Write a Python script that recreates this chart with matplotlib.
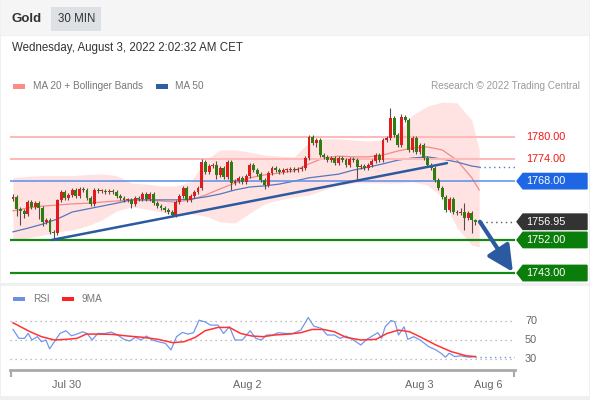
import matplotlib
matplotlib.use('Agg')
import matplotlib.pyplot as plt
from matplotlib.patches import Rectangle, Polygon
import numpy as np

plt.rcParams['font.family'] = ['Liberation Sans', 'DejaVu Sans']

# ---- data (30 min candles, Gold) ----
closes = [1763.7, 1760.4, 1759.9, 1759.1, 1762.3, 1761.0, 1762.0, 1760.7, 1756.9, 1757.4,
          1754.2, 1753.9, 1762.9, 1765.0, 1763.4, 1764.2, 1765.6, 1764.0, 1765.9, 1765.6,
          1763.4, 1761.8, 1765.6, 1765.3, 1765.3, 1765.0, 1765.3, 1765.0, 1764.0, 1763.4,
          1762.9, 1762.9, 1761.8, 1763.4, 1763.1, 1764.5, 1763.1, 1764.5, 1762.0, 1761.2,
          1760.7, 1760.1, 1759.6, 1758.8, 1762.3, 1764.0, 1766.1, 1762.9, 1764.0, 1765.0,
          1766.1, 1773.2, 1770.5, 1772.1, 1772.4, 1769.7, 1771.6, 1769.1, 1773.2, 1767.5,
          1768.0, 1768.9, 1767.8, 1769.4, 1772.4, 1771.0, 1769.9, 1768.3, 1766.9, 1770.2,
          1771.6, 1771.0, 1770.5, 1771.0, 1771.0, 1771.3, 1771.0, 1771.3, 1771.6, 1774.3,
          1780.0, 1778.4, 1779.2, 1775.1, 1774.6, 1773.7, 1774.3, 1772.9, 1774.3, 1773.7,
          1772.4, 1774.0, 1773.7, 1771.8, 1772.1, 1771.6, 1772.4, 1773.5, 1775.1, 1773.7,
          1779.2, 1779.7, 1785.2, 1780.6, 1777.8, 1785.4, 1784.6, 1776.5, 1779.7, 1775.9,
          1777.8, 1774.3, 1772.4, 1771.6, 1768.3, 1766.1, 1763.7, 1760.1, 1763.1, 1759.6,
          1759.3, 1759.6, 1758.0, 1759.3, 1757.4, 1756.9, 1756.95]
first_open = 1763.2
up_wick = [0.8, 0.5, 0.5, 0.5, 0.5, 0.5, 0.5, 0.5, 0.5, 0.5,
           0.5, 0.5, 0.3, 0.6, 0.5, 0.5, 0.5, 0.5, 0.5, 0.5,
           0.5, 0.5, 0.5, 0.5, 0.5, 0.5, 0.5, 0.5, 0.5, 0.5,
           0.5, 0.5, 0.5, 0.5, 0.5, 0.5, 0.5, 0.5, 0.5, 0.5,
           0.5, 0.5, 0.5, 0.5, 0.5, 0.5, 0.5, 0.5, 0.5, 0.5,
           0.5, 0.8, 0.5, 0.5, 0.5, 1.0, 0.5, 0.5, 0.5, 0.5,
           0.5, 0.5, 0.5, 0.5, 0.5, 0.5, 0.5, 0.5, 0.5, 0.5,
           0.5, 0.5, 0.5, 0.5, 0.5, 0.5, 0.5, 0.5, 0.5, 0.5,
           0.5, 0.5, 0.6, 0.5, 0.5, 0.5, 0.5, 0.5, 0.5, 0.5,
           0.5, 0.5, 0.5, 0.5, 0.5, 0.5, 0.5, 0.5, 0.5, 0.5,
           0.5, 0.5, 2.7, 0.6, 0.5, 0.8, 0.5, 0.5, 0.5, 0.5,
           0.5, 0.5, 0.5, 0.5, 0.5, 0.5, 0.5, 0.5, 0.5, 0.5,
           0.5, 1.0, 2.4, 0.5, 0.5, 0.4, 0.3]
dn_wick = [0.5, 2.0, 3.8, 1.1, 0.5, 0.5, 0.5, 3.0, 1.0, 0.5,
           0.5, 1.9, 0.5, 0.5, 0.5, 0.5, 0.5, 0.5, 0.5, 0.5,
           0.5, 0.6, 0.5, 0.5, 0.5, 0.5, 0.5, 0.5, 0.5, 0.5,
           0.5, 0.5, 1.0, 0.5, 0.5, 0.5, 0.5, 0.5, 0.5, 0.5,
           0.5, 0.5, 0.5, 0.6, 0.5, 0.5, 0.5, 0.5, 0.5, 0.5,
           0.5, 0.5, 0.5, 0.5, 0.5, 1.0, 0.5, 0.5, 0.5, 1.9,
           0.5, 0.5, 0.5, 0.5, 0.5, 0.5, 0.5, 0.5, 1.0, 0.5,
           0.5, 0.5, 0.5, 0.5, 0.5, 0.5, 0.5, 0.5, 0.5, 0.5,
           0.5, 0.5, 1.0, 0.5, 0.5, 0.5, 0.5, 0.5, 0.5, 0.5,
           0.5, 0.5, 0.5, 3.5, 0.5, 0.5, 0.5, 0.5, 0.5, 0.5,
           0.5, 0.5, 0.5, 0.5, 0.5, 0.5, 0.5, 0.5, 0.5, 0.5,
           0.5, 0.5, 0.5, 0.5, 0.5, 0.5, 0.5, 0.5, 0.5, 0.5,
           0.5, 0.5, 3.3, 0.5, 3.5, 0.8, 0.3]

# indicators sampled every 4 candles
ma_idx = [0, 4, 8, 12, 16, 20, 24, 28, 32, 36, 40, 44, 48, 52, 56, 60, 64,
          68, 72, 76, 80, 84, 88, 92, 96, 100, 104, 108, 112, 116, 120, 124, 126]
ma20 = [1759.9, 1760.7, 1761.2, 1761.5, 1761.8, 1762.0, 1762.3, 1762.6, 1762.9, 1762.9,
        1762.6, 1762.3, 1762.9, 1764.2, 1765.9, 1767.5, 1768.9, 1769.7, 1770.2, 1770.8,
        1772.7, 1774.3, 1774.8, 1774.6, 1774.6, 1775.1, 1776.2, 1777.0, 1777.3, 1776.5,
        1773.7, 1768.9, 1765.6]
bb_upper = [1769.0, 1769.3, 1769.5, 1769.5, 1769.5, 1769.8, 1770.0, 1769.5, 1767.5, 1767.2,
            1766.7, 1766.7, 1767.8, 1773.7, 1776.5, 1776.5, 1775.9, 1775.1, 1774.8, 1774.6,
            1778.6, 1779.5, 1779.5, 1779.2, 1778.9, 1779.2, 1781.1, 1786.0, 1788.4, 1789.5,
            1789.3, 1784.6, 1776.5]
bb_lower = [1752.0, 1752.5, 1753.3, 1754.2, 1754.7, 1755.8, 1757.4, 1759.9, 1761.0, 1760.4,
            1759.6, 1758.8, 1759.1, 1758.5, 1756.9, 1756.6, 1759.3, 1761.8, 1762.9, 1763.7,
            1764.2, 1765.6, 1766.9, 1767.5, 1767.5, 1767.5, 1767.5, 1767.8, 1766.9, 1763.7,
            1755.2, 1750.6, 1750.1]
ma50 = [1754.2, 1755.2, 1756.3, 1757.7, 1759.6, 1760.4, 1761.2, 1762.0, 1762.9, 1762.9,
        1762.9, 1762.9, 1763.1, 1763.7, 1764.5, 1765.6, 1766.4, 1766.7, 1767.2, 1768.0,
        1768.9, 1769.4, 1769.9, 1771.0, 1771.8, 1772.7, 1773.7, 1774.3, 1774.6, 1774.0,
        1773.2, 1772.1, 1771.8]

resistances = [1780.00, 1774.00]
pivot = 1768.00
supports = [1752.00, 1743.00]
last_price = 1756.95

trend_x = [10.5, 117.3]
trend_y = [1752.0, 1772.9]
arrow_x = [126.2, 135.1]
arrow_y = [1756.95, 1743.3]

rsi_idx = [0.0, 1.6, 3.1, 4.1, 5.1, 6.6, 7.7, 8.9, 9.9, 11.2, 12.7, 14.3, 15.8, 17.3, 18.8,
           20.0, 21.4, 22.9, 24.9, 26.5, 28.0, 30.0, 31.5, 33.1, 34.6, 36.1, 37.6, 39.2,
           41.2, 42.7, 44.2, 45.8, 47.3, 48.8, 50.3, 51.9, 53.4, 55.4, 56.9, 58.5, 60.0,
           62.0, 64.1, 65.6, 67.1, 68.6, 70.2, 71.7, 73.7, 75.7, 77.8, 79.8, 81.3, 83.4,
           84.9, 86.9, 88.4, 90.0, 92.0, 94.0, 95.6, 97.1, 98.6, 99.6, 100.6, 102.2, 103.2,
           104.2, 105.7, 106.7, 108.3, 110.3, 112.3, 114.3, 115.9, 116.9, 117.9, 119.4,
           121.0, 122.0, 123.5, 125.0]
rsi_val = [61.4, 51.8, 51.8, 57.1, 50.0, 53.6, 48.2, 50.0, 40.4, 48.2, 57.1, 60.0, 54.6, 56.4,
           58.9, 57.1, 50.0, 57.1, 57.1, 58.6, 56.1, 50.7, 48.9, 52.9, 50.0, 54.3, 50.0, 48.2,
           46.4, 39.3, 53.6, 58.2, 56.4, 57.9, 71.4, 69.6, 66.1, 66.1, 57.1, 64.3, 50.0, 50.0,
           60.0, 51.8, 50.0, 55.4, 55.4, 57.9, 57.1, 57.1, 60.7, 74.3, 65.0, 62.5, 55.4, 55.4,
           51.8, 54.3, 50.0, 44.6, 50.7, 54.3, 57.9, 51.8, 64.3, 71.1, 69.6, 55.4, 64.3, 50.7,
           53.6, 49.3, 42.9, 39.3, 35.0, 31.4, 35.7, 32.1, 32.9, 32.1, 31.4, 32.1]
rsi_ma_idx = [0, 4.6, 7.7, 11.2, 14.3, 17.3, 19.8, 22.9, 27.0, 31.0, 35.1, 39.2, 43.2, 46.3,
              49.3, 51.9, 55.4, 58.5, 61.5, 64.6, 67.6, 70.7, 74.7, 77.8, 80.8, 83.9, 86.9,
              90.0, 94.0, 98.1, 101.1, 104.2, 107.2, 110.3, 114.3, 118.4, 122.5, 125.0]
rsi_ma = [68.6, 59.0, 53.6, 50.0, 50.7, 51.8, 56.4, 56.4, 56.0, 54.3, 52.9, 50.7, 47.1, 48.2,
          52.9, 60.0, 63.6, 63.6, 57.1, 54.3, 53.6, 55.4, 56.4, 57.9, 61.4, 61.4, 58.9, 52.9,
          50.0, 50.7, 57.1, 60.7, 58.9, 52.9, 44.6, 37.5, 32.9, 32.1]
rsi_levels = [70, 50, 30]

date_ticks = [14.6, 63.2, 109.7, 128.4]
date_labels = ['Jul 30', 'Aug 2', 'Aug 3', 'Aug 6']

# ---- figure + panels (pixel helpers) ----
W, H = 590, 400
fig = plt.figure(figsize=(W / 100, H / 100), dpi=100, facecolor='#eef0f2')


def px_rect(x0, y0, x1, y1, color):
    fig.add_artist(Rectangle((x0 / W, 1 - y1 / H), (x1 - x0) / W, (y1 - y0) / H,
                             transform=fig.transFigure, facecolor=color, edgecolor='none',
                             zorder=-5))


def px_text(x, y, s, **kw):
    fig.text(x / W, 1 - y / H, s, va='center', **kw)


px_rect(1, 0, 589, 35, '#f5f5f5')
px_rect(1, 36, 589, 283, 'white')
px_rect(1, 286, 589, 396, 'white')
px_rect(51, 7, 101, 31, '#dde0e4')
px_text(12, 19, 'Gold', fontsize=9.5, fontweight='bold', color='#333333')
px_text(58, 19, '30 MIN', fontsize=8.3, color='#333333')
px_text(12, 48, 'Wednesday, August 3, 2022 2:02:32 AM CET', fontsize=8.3, color='#333333')

px_rect(13, 84, 25, 89, '#ff8a8a')
px_text(33, 86, 'MA 20 + Bollinger Bands', fontsize=7.2, color='#777777')
px_rect(156, 84, 168, 89, '#2f5ea3')
px_text(175, 86, 'MA 50', fontsize=7.2, color='#777777')
px_text(580, 86, 'Research \u00a9 2022 Trading Central', fontsize=7.2, color='#9a9a9a', ha='right')

px_rect(13, 297, 25, 301, '#6d8fe6')
px_text(33, 299, 'RSI', fontsize=7.2, color='#777777')
px_rect(62, 297, 74, 301, '#ff2020')
px_text(82, 299, '9MA', fontsize=7.2, color='#777777')

# ---- price panel ----
n = len(closes)
x = np.arange(n)
c = np.array(closes)
o = np.array([first_open] + closes[:-1])
body_lo = np.minimum(o, c)
body_hi = np.maximum(o, c)
highs = body_hi + np.array(up_wick)
lows = body_lo - np.array(dn_wick)

xlim = (-0.81, 135.68)
ax = fig.add_axes([10 / W, 1 - 281 / H, 505 / W, 186 / H])
ax.set_xlim(*xlim)
ax.set_ylim(1740.83, 1791.43)
ax.axis('off')

ax.fill_between(ma_idx, bb_lower, bb_upper, color='#ffe3e3', lw=0, zorder=1)
ax.plot(ma_idx, ma20, color='#f28a8a', lw=0.9, zorder=2)
ax.plot(ma_idx, ma50, color='#5577bb', lw=0.9, zorder=2)
ax.plot([ma_idx[-1], xlim[1]], [ma50[-1], ma50[-1]], color='#5577bb', lw=1, ls=(0, (1, 2.5)), zorder=2)

for lv in resistances:
    ax.axhline(lv, color='#ffb8b8', lw=1.4, zorder=2)
ax.axhline(pivot, color='#5a8ee8', lw=1.1, zorder=2)
for lv in supports:
    ax.axhline(lv, color='#138a13', lw=1.6, zorder=2)
ax.plot([x[-1] + 0.5, xlim[1]], [last_price, last_price], color='#555555', lw=1,
        ls=(0, (1, 2.5)), zorder=2)

cols = ['#e31a1c' if cc >= oo else '#2e7d0f' for oo, cc in zip(o, c)]
ax.vlines(x, lows, highs, color='#5c4a4a', lw=0.8, zorder=3)
ax.bar(x, np.maximum(body_hi - body_lo, 0.3), bottom=body_lo, width=0.8,
       color=cols, lw=0, zorder=4)

ax.plot(trend_x, trend_y, color='#2c5aa0', lw=1.8, zorder=5, solid_capstyle='round')
ax.annotate('', xy=(arrow_x[1], arrow_y[1]), xytext=(arrow_x[0], arrow_y[0]),
            arrowprops=dict(arrowstyle='-|>,head_width=0.6,head_length=1.2',
                            lw=3.0, color='#2c5aa0', mutation_scale=13, shrinkA=0, shrinkB=0),
            zorder=6, annotation_clip=False)

# right side price tags
tr = ax.get_yaxis_transform()
x0, x1, x2 = (517 - 10) / 505, (523 - 10) / 505, (587 - 10) / 505
hh = 2.1
tags = [(resistances[0], None, '#f01818'), (resistances[1], None, '#f01818'),
        (pivot, '#1f66e5', 'white'), (last_price, '#333333', 'white'),
        (supports[0], '#0a7d0a', 'white'), (supports[1], '#0a7d0a', 'white')]
for lv, face, tc in tags:
    if face is not None:
        ax.add_patch(Polygon([(x0, lv), (x1, lv + hh), (x2, lv + hh), (x2, lv - hh), (x1, lv - hh)],
                             closed=True, transform=tr, facecolor=face, edgecolor=face,
                             clip_on=False, zorder=6))
    ax.text((526 - 10) / 505, lv, '%.2f' % lv, transform=tr, color=tc, fontsize=7.8,
            va='center', ha='left', zorder=7)

# ---- RSI panel ----
ax2 = fig.add_axes([10 / W, 1 - 370 / H, 505 / W, 70 / H])
ax2.set_xlim(*xlim)
ax2.set_ylim(17.57, 93.24)
ax2.patch.set_alpha(0)
for s in ['top', 'right', 'left']:
    ax2.spines[s].set_visible(False)
ax2.spines['bottom'].set_color('#aaaaaa')
ax2.spines['bottom'].set_linewidth(2)
ax2.set_yticks([])
for lv in rsi_levels:
    ax2.axhline(lv, color='#aaaaaa', lw=0.9, ls=(0, (1, 3)))
    ax2.text((525 - 10) / 505, lv, str(lv), transform=ax2.get_yaxis_transform(),
             fontsize=7.8, color='#666666', va='center')
ax2.plot(rsi_idx, rsi_val, color='#7196f0', lw=0.9)
ax2.plot(rsi_ma_idx, rsi_ma, color='#ff3333', lw=1.1)
ax2.plot([rsi_idx[-1], xlim[1]], [rsi_val[-1], rsi_val[-1]], color='#7196f0', lw=1,
         ls=(0, (1, 2.5)))

ax2.set_xticks(date_ticks)
ax2.set_xticklabels(date_labels)
ax2.tick_params(axis='x', which='major', length=0, labelsize=7.8, labelcolor='#666666', pad=7)
ax2.set_xticks([xlim[0] + 0.3, xlim[1] - 0.3], minor=True)
ax2.tick_params(axis='x', which='minor', length=5, width=1.5, color='#aaaaaa', direction='out')

fig.savefig('out.png', dpi=100, facecolor=fig.get_facecolor())
